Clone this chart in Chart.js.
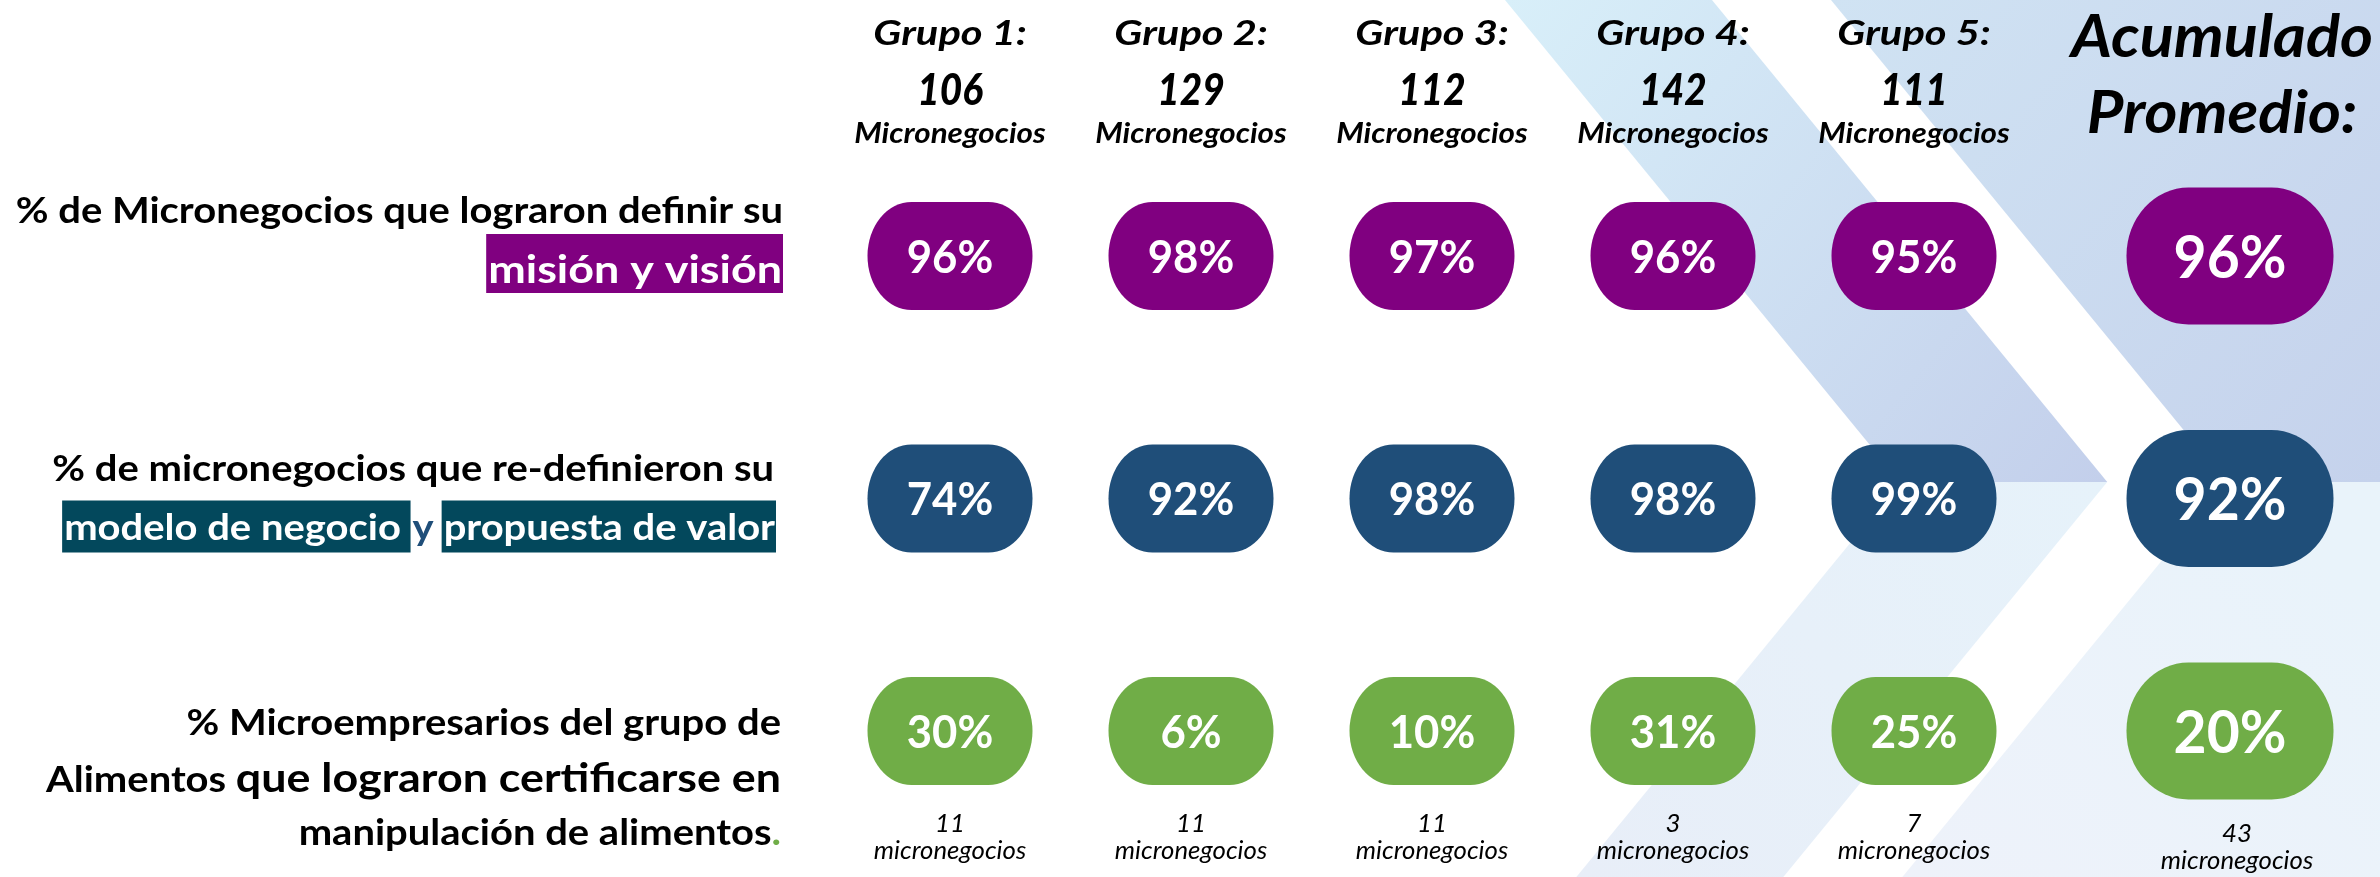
<!DOCTYPE html>
<html>
<head>
<meta charset="utf-8">
<script src="https://cdn.jsdelivr.net/npm/chart.js@4"></script>
<style>
  html, body { margin: 0; padding: 0; background: #fff; }
  #wrap { width: 2380px; height: 877px; position: relative; }
</style>
</head>
<body>
<div id="wrap"><canvas id="chart"></canvas></div>
<script>
// columnas: 5 grupos + acumulado
const columnas = ["Grupo 1:", "Grupo 2:", "Grupo 3:", "Grupo 4:", "Grupo 5:", "Acumulado Promedio:"];
const micronegociosGrupo = [106, 129, 112, 142, 111];
const filas = ["mision", "modelo", "alimentos"];
// el último valor de cada serie es el acumulado promedio
const misionVision = [96, 98, 97, 96, 95, 96];
const modeloNegocio = [74, 92, 98, 98, 99, 92];
const manipulacionAlimentos = [30, 6, 10, 31, 25, 20];
const micronegociosAlimentos = [11, 11, 11, 3, 7, 43];

const series = [misionVision, modeloNegocio, manipulacionAlimentos];
const colores = { mision: "#800080", modelo: "#1f4e79", alimentos: "#70ad47" };
const FONT = "Lato";
const SHIFT_ACUM = 75;
const ROW_NUDGE = [0, 5, 0];

function texto(ctx, str, x, y, font, color, align, stretch) {
  ctx.save();
  ctx.font = font;
  ctx.fillStyle = color;
  ctx.textBaseline = "alphabetic";
  ctx.textAlign = "left";
  const w = ctx.measureText(str).width * stretch;
  const left = align === "center" ? x - w / 2 : align === "right" ? x - w : x;
  ctx.translate(left, y);
  ctx.scale(stretch, 1);
  ctx.fillText(str, 0, 0);
  ctx.restore();
  return w;
}

function ancho(ctx, str, font, stretch) {
  ctx.save();
  ctx.font = font;
  const w = ctx.measureText(str).width * stretch;
  ctx.restore();
  return w;
}

function pastilla(ctx, cx, cy, w, h, rx, ry) {
  const x = cx - w / 2, y = cy - h / 2;
  ctx.beginPath();
  ctx.moveTo(x + rx, y);
  ctx.lineTo(x + w - rx, y);
  ctx.ellipse(x + w - rx, y + ry, rx, ry, 0, -Math.PI / 2, 0);
  ctx.lineTo(x + w, y + h - ry);
  ctx.ellipse(x + w - rx, y + h - ry, rx, ry, 0, 0, Math.PI / 2);
  ctx.lineTo(x + rx, y + h);
  ctx.ellipse(x + rx, y + h - ry, rx, ry, 0, Math.PI / 2, Math.PI);
  ctx.lineTo(x, y + ry);
  ctx.ellipse(x + rx, y + ry, rx, ry, 0, Math.PI, Math.PI * 1.5);
  ctx.closePath();
  ctx.fill();
}

const fondo = {
  id: "fondo",
  beforeDraw(chart) {
    const { ctx, width, height } = chart;
    const k = 0.82, M = 482, H = height - M;
    const poly = (pts, fill) => {
      ctx.beginPath();
      pts.forEach(([px, py], i) => i ? ctx.lineTo(px, py) : ctx.moveTo(px, py));
      ctx.closePath();
      ctx.fillStyle = fill;
      ctx.fill();
    };
    ctx.save();
    ctx.fillStyle = "#fff";
    ctx.fillRect(0, 0, width, height);

    let g = ctx.createLinearGradient(1505, 0, 2107, M);
    g.addColorStop(0, "#d8eff9");
    g.addColorStop(1, "#c3cfeb");
    poly([[1505, 0], [1712, 0], [1712 + k * M, M], [1505 + k * M, M]], g);

    g = ctx.createLinearGradient(1831, 0, width, M);
    g.addColorStop(0, "#d0e3f3");
    g.addColorStop(1, "#c5d2ec");
    poly([[1831, 0], [width, 0], [width, M], [1831 + k * M, M]], g);

    g = ctx.createLinearGradient(2107, M, 1576, height);
    g.addColorStop(0, "#e6f2fa");
    g.addColorStop(1, "#e8eef8");
    poly([[1505 + k * M, M], [1712 + k * M, M], [1712 + k * M - k * H, height], [1505 + k * M - k * H, height]], g);

    g = ctx.createLinearGradient(2226, M, 1902, height);
    g.addColorStop(0, "#e9f3fa");
    g.addColorStop(1, "#eef2fa");
    poly([[1831 + k * M, M], [width, M], [width, height], [1831 + k * M - k * H, height]], g);
    ctx.restore();
  }
};

const encabezados = {
  id: "encabezados",
  afterDraw(chart) {
    const { ctx } = chart;
    const xs = chart.scales.x;
    columnas.forEach((col, i) => {
      const cx = xs.getPixelForValue(i);
      if (i < micronegociosGrupo.length) {
        texto(ctx, col, cx, 45, `italic bold 35px ${FONT}`, "#000", "center", 1.19);
        texto(ctx, String(micronegociosGrupo[i]), cx, 105, `italic 900 44px ${FONT}`, "#000", "center", 0.88);
        texto(ctx, "Micronegocios", cx, 143, `italic bold 28px ${FONT}`, "#000", "center", 1.12);
      } else {
        const [l1, l2] = col.split(" ");
        texto(ctx, l1, cx + SHIFT_ACUM - 8, 57, `italic bold 59px ${FONT}`, "#000", "center", 1.07);
        texto(ctx, l2, cx + SHIFT_ACUM - 8, 133, `italic bold 59px ${FONT}`, "#000", "center", 1.07);
      }
    });
  }
};

const etiquetas = {
  id: "etiquetas",
  afterDraw(chart) {
    const { ctx } = chart;
    const ys = chart.scales.y;
    const f36 = `bold 36px ${FONT}`, f37 = `bold 37px ${FONT}`;
    const f39 = `bold 39px ${FONT}`, f40 = `bold 40px ${FONT}`;

    // fila 1
    let cy = ys.getPixelForValue(0) + ROW_NUDGE[0];
    let R = 783;
    texto(ctx, "% de Micronegocios que lograron definir su", R, cy - 33, f36, "#000", "right", 1.11);
    let w = ancho(ctx, "misión y visión", f39, 1.15);
    ctx.fillStyle = colores.mision;
    ctx.fillRect(R - w - 3, cy - 22, w + 3, 59);
    texto(ctx, "misión y visión", R - 1, cy + 27, f39, "#fff", "right", 1.15);

    // fila 2
    cy = ys.getPixelForValue(1) + ROW_NUDGE[1];
    R = 776;
    texto(ctx, "% de micronegocios que re-definieron su", R - 2, cy - 18, f36, "#000", "right", 1.11);
    const caja = "#03485c";
    w = ancho(ctx, "propuesta de valor", f37, 1.08);
    ctx.fillStyle = caja;
    ctx.fillRect(R - w - 3, cy + 2, w + 3, 52);
    texto(ctx, "propuesta de valor", R - 1, cy + 41, f37, "#fff", "right", 1.08);
    let x = R - w - 3 - 8;
    const wy = texto(ctx, "y", x, cy + 41, f37, colores.modelo, "right", 1.08);
    x -= wy + 2;
    w = ancho(ctx, "modelo de negocio ", f37, 1.08);
    ctx.fillStyle = caja;
    ctx.fillRect(x - w - 2, cy + 2, w + 2, 52);
    texto(ctx, "modelo de negocio", x - w, cy + 41, f37, "#fff", "left", 1.08);

    // fila 3
    cy = ys.getPixelForValue(2) + ROW_NUDGE[2];
    R = 781;
    texto(ctx, "% Microempresarios del grupo de", R, cy + 4, f36, "#000", "right", 1.11);
    w = texto(ctx, "que lograron certificarse en", R, cy + 61, f40, "#000", "right", 1.12);
    texto(ctx, "Alimentos ", R - w, cy + 61, f36, "#000", "right", 1.11);
    w = texto(ctx, ".", R, cy + 114, f37, colores.alimentos, "right", 1.08);
    texto(ctx, "manipulación de alimentos", R - w, cy + 114, f37, "#000", "right", 1.08);
  }
};

const pastillas = {
  id: "pastillas",
  afterDatasetsDraw(chart) {
    const { ctx } = chart;
    chart.data.datasets.forEach((ds, d) => {
      const meta = chart.getDatasetMeta(d);
      meta.data.forEach((el, i) => {
        const acum = i === columnas.length - 1;
        const cx = el.x + (acum ? SHIFT_ACUM : 0);
        const cy = el.y + ROW_NUDGE[d];
        ctx.save();
        ctx.fillStyle = ds.backgroundColor;
        if (acum) pastilla(ctx, cx, cy, 207, 137, 62, 68);
        else pastilla(ctx, cx, cy, 165, 108, 44, 54);
        ctx.restore();
        const size = acum ? 60 : 46;
        texto(ctx, ds.data[i].v + "%", cx, cy + size * 0.36, `bold ${size}px ${FONT}`, "#fff", "center", 0.95);
        if (filas[d] === "alimentos") {
          const off = acum ? 10 : 0;
          const fx = cx + (acum ? 7 : 0);
          texto(ctx, String(micronegociosAlimentos[i]), fx, 832 + off, `italic 25px ${FONT}`, "#000", "center", 1.03);
          texto(ctx, "micronegocios", fx, 859 + off, `italic 25px ${FONT}`, "#000", "center", 1.03);
        }
      });
    });
  }
};

new Chart(document.getElementById("chart"), {
  type: "scatter",
  data: {
    datasets: filas.map((fila, r) => ({
      label: fila,
      data: series[r].map((v, i) => ({ x: columnas[i], y: fila, v })),
      backgroundColor: colores[fila],
      pointRadius: 0,
      pointHoverRadius: 0
    }))
  },
  options: {
    responsive: true,
    maintainAspectRatio: false,
    animation: false,
    events: [],
    layout: { padding: { left: 950, right: 225, top: 256, bottom: 146 } },
    plugins: { legend: { display: false }, tooltip: { enabled: false } },
    scales: {
      x: { type: "category", labels: columnas, display: false, offset: false },
      y: { type: "category", labels: filas, display: false, offset: false }
    }
  },
  plugins: [fondo, pastillas, encabezados, etiquetas]
});
</script>
</body>
</html>
